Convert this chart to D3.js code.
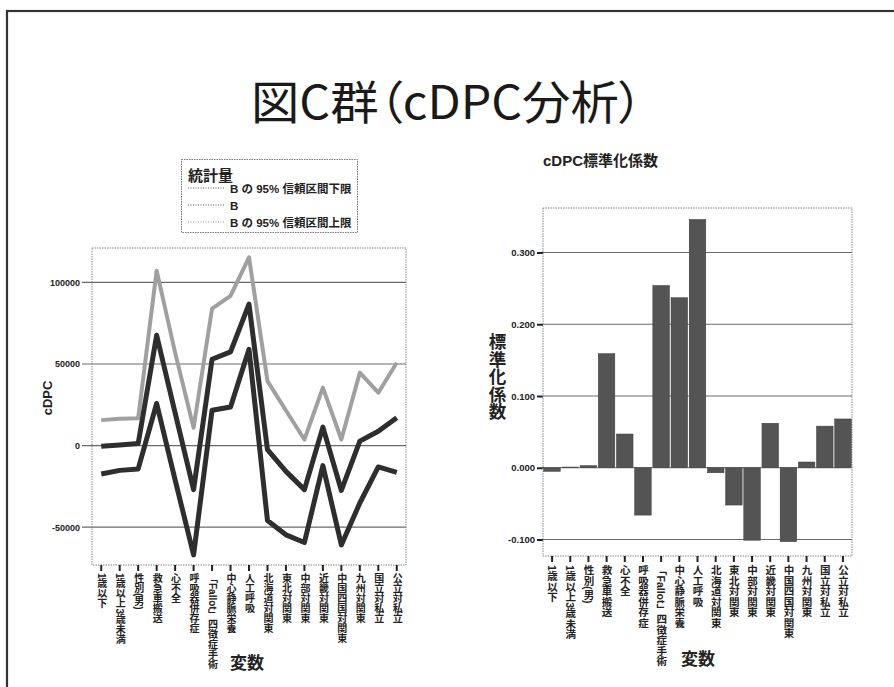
<!DOCTYPE html>
<html>
<head>
<meta charset="utf-8">
<script src="https://cdn.jsdelivr.net/npm/d3@7"></script>
<style>
  html, body { margin: 0; padding: 0; background: #fff; }
  svg { display: block; }
  .jp { font-family: "Liberation Sans", "Noto Sans CJK JP", sans-serif; }
</style>
</head>
<body>
<svg id="chart" width="894" height="687"></svg>
<script>
// ---- data ----
const categories = ["1歳以下","1歳以上3歳未満","性別(男)","救急車搬送","心不全","呼吸器併存症",
  "「Fallot」四徴症手術","中心静脈栄養","人工呼吸","北海道対関東","東北対関東","中部対関東",
  "近畿対関東","中国四国対関東","九州対関東","国立対私立","公立対私立"];
const ciLower = [-17400,-15200,-14300,25800,-21000,-67000,21700,23600,59000,-45900,-54700,-59400,-12300,-60900,-35200,-13100,-16400];
const bValue  = [-400,300,1200,67600,20000,-27000,52900,57400,86700,-2500,-15800,-27000,11300,-27500,2700,8800,17000];
const ciUpper = [15600,16500,16800,107200,57000,10900,84000,91800,115400,39500,21500,3700,35500,3700,44700,32400,50800];
const stdCoef = [-0.005,0.001,0.003,0.159,0.047,-0.066,0.254,0.237,0.346,-0.007,-0.052,-0.101,0.062,-0.103,0.008,0.058,0.068];
const leftTicks = [-50000, 0, 50000, 100000];
const rightTicks = [-0.1, 0, 0.1, 0.2, 0.3];
const legendLabels = ["B の 95% 信頼区間下限", "B", "B の 95% 信頼区間上限"];

const svg = d3.select("#chart");

// page border
svg.append("rect").attr("x", 7).attr("y", 11).attr("width", 950).attr("height", 750)
  .attr("fill", "none").attr("stroke", "#333").attr("stroke-width", 2.2);

// main title
svg.append("text")
  .attr("x", 251).attr("y", 119)
  .attr("textLength", 392).attr("lengthAdjust", "spacingAndGlyphs")
  .style("font-family", "'Noto Sans CJK JP', sans-serif")
  .style("font-feature-settings", "'palt' 1")
  .attr("font-size", 46).attr("fill", "#1a1a1a")
  .text("図C群（cDPC分析）");

const fmtInt = v => d3.format("d")(v).replace("\u2212", "-");
const fmt3 = v => d3.format(".3f")(v).replace("\u2212", "-");

// ================= LEFT CHART =================
const L = {x0: 92, x1: 406, y0: 248, y1: 565};
const xL = d3.scaleBand().domain(categories).range([L.x0, L.x1]).padding(0);
const yL = d3.scaleLinear().domain([-73200, 121100]).range([L.y1, L.y0]);

const gL = svg.append("g");
const ayL = gL.append("g").attr("transform", `translate(${L.x0 - 10},0)`);
ayL.call(d3.axisLeft(yL).tickValues(leftTicks).tickFormat(fmtInt).tickSize(0).tickPadding(2));
ayL.select(".domain").remove();
ayL.selectAll("text").attr("class", "jp").attr("font-size", 9).attr("font-weight", "bold").attr("fill", "#222");
gL.append("g").selectAll("line").data(leftTicks).join("line")
  .attr("x1", L.x0 - 10).attr("x2", L.x1).attr("y1", d => yL(d)).attr("y2", d => yL(d))
  .attr("stroke", "#6a6a6a").attr("stroke-width", 1.2);

// frame
gL.append("rect").attr("x", L.x0).attr("y", L.y0).attr("width", L.x1 - L.x0).attr("height", L.y1 - L.y0)
  .attr("fill", "none").attr("stroke", "#888").attr("stroke-width", 1).attr("stroke-dasharray", "1.5,1");

// x ticks
const axL = gL.append("g").attr("transform", `translate(0,${L.y1})`)
  .call(d3.axisBottom(xL).tickSize(6).tickFormat(""));
axL.select(".domain").remove();
axL.selectAll("line").attr("stroke", "#222").attr("stroke-width", 2);

// x labels (vertical)
gL.append("g").selectAll("text").data(categories).join("text").attr("class", "jp")
  .attr("x", d => xL(d) + xL.bandwidth() / 2).attr("y", L.y1 + 8)
  .style("writing-mode", "vertical-rl").style("text-orientation", "mixed")
  .attr("font-size", 10).attr("font-weight", "bold").attr("fill", "#222")
  .text(d => d);

// lines
const cx = i => xL(categories[i]) + xL.bandwidth() / 2;
const line = d3.line().x((d, i) => cx(i)).y(d => yL(d));
gL.append("path").datum(ciUpper).attr("d", line).attr("fill", "none")
  .attr("stroke", "#a0a0a0").attr("stroke-width", 4).attr("stroke-linejoin", "round");
gL.append("path").datum(bValue).attr("d", line).attr("fill", "none")
  .attr("stroke", "#2e2e2e").attr("stroke-width", 5).attr("stroke-linejoin", "round");
gL.append("path").datum(ciLower).attr("d", line).attr("fill", "none")
  .attr("stroke", "#2e2e2e").attr("stroke-width", 5).attr("stroke-linejoin", "round");

// axis titles
svg.append("text").attr("class", "jp").attr("transform", "translate(52,398) rotate(-90)")
  .attr("text-anchor", "middle").attr("font-size", 13).attr("font-weight", "bold").attr("fill", "#222")
  .text("cDPC");
svg.append("text").attr("class", "jp").attr("x", 247).attr("y", 669)
  .attr("text-anchor", "middle").attr("font-size", 17).attr("font-weight", "bold").attr("fill", "#222")
  .text("変数");

// legend
const lg = svg.append("g");
lg.append("rect").attr("x", 181.5).attr("y", 159.5).attr("width", 176).attr("height", 73)
  .attr("fill", "#fff").attr("stroke", "#777").attr("stroke-width", 1).attr("stroke-dasharray", "1.5,1");
lg.append("text").attr("class", "jp").attr("x", 188).attr("y", 181)
  .attr("font-size", 15).attr("font-weight", "bold").attr("fill", "#222").text("統計量");
const legendColors = ["#555", "#555", "#999"];
legendLabels.forEach((t, i) => {
  const yy = 188 + i * 17;
  lg.append("line").attr("x1", 188).attr("x2", 225).attr("y1", yy).attr("y2", yy)
    .attr("stroke", legendColors[i]).attr("stroke-width", 1).attr("stroke-dasharray", "1,1.5");
  lg.append("text").attr("class", "jp").attr("x", 230).attr("y", yy + 4.5)
    .attr("font-size", 11.5).attr("font-weight", "bold").attr("fill", "#222").text(t);
});

// ================= RIGHT CHART =================
const R = {x0: 543, x1: 852, y0: 208, y1: 556};
const xR = d3.scaleBand().domain(categories).range([R.x0, R.x1]).paddingInner(0.09).paddingOuter(0.04);
const xRt = d3.scaleBand().domain(categories).range([R.x0, R.x1]).padding(0);
const yR = d3.scaleLinear().domain([-0.123, 0.362]).range([R.y1, R.y0]);

const gR = svg.append("g");
gR.append("g").selectAll("line").data(rightTicks).join("line")
  .attr("x1", R.x0).attr("x2", R.x1).attr("y1", d => yR(d)).attr("y2", d => yR(d))
  .attr("stroke", "#6a6a6a").attr("stroke-width", 1.2);
const ayR = gR.append("g").attr("transform", `translate(${R.x0},0)`)
  .call(d3.axisLeft(yR).tickValues(rightTicks).tickFormat(fmt3).tickSize(6).tickPadding(2));
ayR.select(".domain").remove();
ayR.selectAll("line").attr("stroke", "#222").attr("stroke-width", 2);
ayR.selectAll("text").attr("class", "jp").attr("font-size", 9.5).attr("font-weight", "bold").attr("fill", "#222");

gR.append("rect").attr("x", R.x0).attr("y", R.y0).attr("width", R.x1 - R.x0).attr("height", R.y1 - R.y0)
  .attr("fill", "none").attr("stroke", "#888").attr("stroke-width", 1).attr("stroke-dasharray", "1.5,1");

// bars
gR.append("g").selectAll("rect").data(stdCoef).join("rect")
  .attr("x", (d, i) => xR(categories[i]))
  .attr("width", xR.bandwidth())
  .attr("y", d => yR(Math.max(0, d)))
  .attr("height", d => Math.abs(yR(d) - yR(0)))
  .attr("fill", "#545454").attr("stroke", "#3a3a3a").attr("stroke-width", 0.5);

const axR = gR.append("g").attr("transform", `translate(0,${R.y1})`)
  .call(d3.axisBottom(xRt).tickSize(6).tickFormat(""));
axR.select(".domain").remove();
axR.selectAll("line").attr("stroke", "#222").attr("stroke-width", 2);

gR.append("g").selectAll("text").data(categories).join("text").attr("class", "jp")
  .attr("x", d => xRt(d) + xRt.bandwidth() / 2).attr("y", R.y1 + 9)
  .style("writing-mode", "vertical-rl").style("text-orientation", "mixed")
  .attr("font-size", 10.5).attr("font-weight", "bold").attr("fill", "#222")
  .text(d => d);

svg.append("text").attr("class", "jp").attr("x", 543).attr("y", 166)
  .attr("font-size", 15).attr("font-weight", "bold").attr("fill", "#222").text("cDPC標準化係数");
svg.append("text").attr("class", "jp").attr("x", 496).attr("y", 333)
  .style("writing-mode", "vertical-rl").style("text-orientation", "upright")
  .attr("font-size", 17.5).attr("font-weight", "bold").attr("fill", "#222").text("標準化係数");
svg.append("text").attr("class", "jp").attr("x", 698).attr("y", 665)
  .attr("text-anchor", "middle").attr("font-size", 17).attr("font-weight", "bold").attr("fill", "#222")
  .text("変数");
</script>
</body>
</html>
